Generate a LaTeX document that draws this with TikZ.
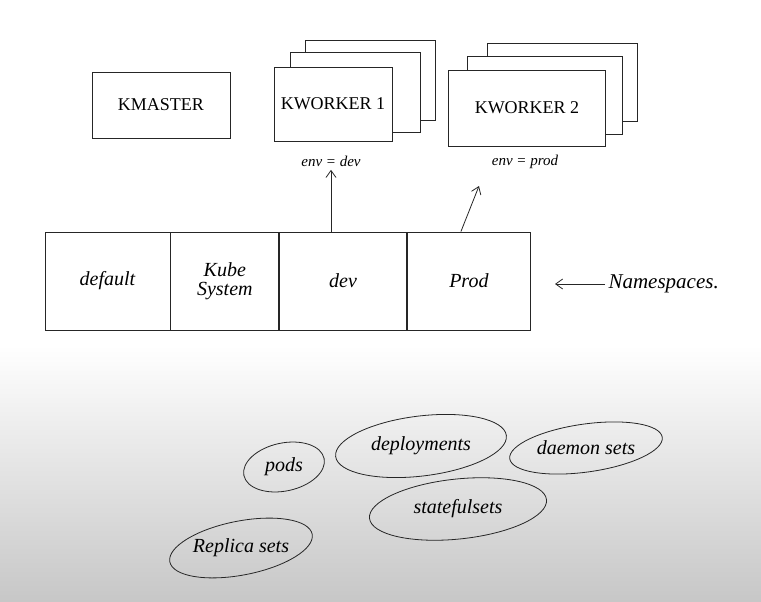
\documentclass[tikz,border=0pt]{standalone}
\usepackage{fontspec}
\setmainfont{Liberation Serif}
\usetikzlibrary{shapes.geometric,arrows.meta,positioning}
\begin{document}
\begin{tikzpicture}[x=1pt,y=-1pt,
  ink/.style={draw=black!85,line width=0.8pt},
  hbox/.style={ink,fill=white,rectangle,inner sep=0pt,font=\fontsize{18}{20}\selectfont},
  cell/.style={ink,rectangle,inner sep=0pt,minimum height=98pt,font=\itshape\fontsize{20}{21}\selectfont,align=center},
  oval/.style={ink,ellipse,inner sep=0pt},
  ovaltext/.style={font=\itshape\fontsize{20}{22}\selectfont},
  lbl/.style={font=\itshape\fontsize{15}{17}\selectfont},
  arr/.style={ink,-{Straight Barb[length=7pt,width=10pt]}}
]
\useasboundingbox (0,0) rectangle (761,602);
\shade[top color=white,bottom color=black!22] (0,345) rectangle (761,602);
% KMASTER
\node[hbox,minimum width=138pt,minimum height=66pt] (km) at (161,105) {KMASTER};
% KWORKER 1 stack
\node[hbox,minimum width=130pt,minimum height=80pt] (w1c) at (370,80) {};
\node[hbox,minimum width=130pt,minimum height=80pt] (w1b) at (355,92) {};
\node[hbox,minimum width=118pt,minimum height=74pt] (w1) at (333,104) {KWORKER 1};
% KWORKER 2 stack
\node[hbox,minimum width=150pt,minimum height=78pt] (w2c) at (562,82) {};
\node[hbox,minimum width=155pt,minimum height=78pt] (w2b) at (545,95) {};
\node[hbox,minimum width=157pt,minimum height=76pt] (w2) at (527,108) {KWORKER 2};
% labels
\node[lbl] (e1) at (331,161) {env = dev};
\node[lbl] (e2) at (525,162) {env = prod};
% namespaces
\node[cell,minimum width=125pt] (nd) at (107.5,281) {default};
\node[cell,minimum width=108pt,anchor=west] (nk) at (nd.east) {Kube\\[-2pt]System};
\node[cell,minimum width=127pt,anchor=west] (ndev) at (nk.east) {dev};
\node[cell,minimum width=123pt,anchor=west] (np) at (ndev.east) {Prod};
\node[font=\itshape\fontsize{21}{23}\selectfont,anchor=west] (ns) at (605,284) {Namespaces.};
\draw[arr] (ns.west) -- ++(-50,0);
\draw[arr] (ndev.north -| e1.south) -- (e1.south);
\coordinate (e2tip) at (479,186);
\draw[arr] ([xshift=-8pt]np.north) -- (e2tip);
% resource ovals
\node[oval,minimum width=82pt,minimum height=48pt,rotate=12] (pods) at (284,467) {};
\node[ovaltext] (podst) at (pods.center) {pods};
\node[oval,minimum width=172pt,minimum height=60pt,rotate=7] (dep) at (421,446) {};
\node[ovaltext] (dept) at (dep.center) {deployments};
\node[oval,minimum width=154pt,minimum height=48pt,rotate=8] (ds) at (586,448) {};
\node[ovaltext] (dst) at (ds.center) {daemon sets};
\node[oval,minimum width=178pt,minimum height=60pt,rotate=6] (ss) at (458,509) {};
\node[ovaltext] (sst) at (ss.center) {statefulsets};
\node[oval,minimum width=145pt,minimum height=54pt,rotate=11] (rs) at (241,548) {};
\node[ovaltext] (rst) at (rs.center) {Replica sets};
\end{tikzpicture}
\end{document}
